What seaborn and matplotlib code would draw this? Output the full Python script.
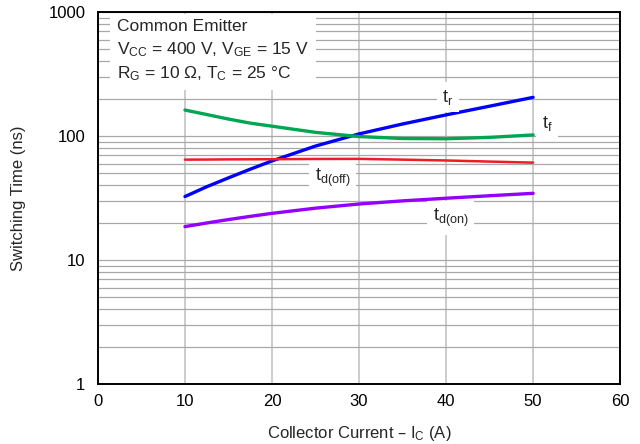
import numpy as np
import pandas as pd
import matplotlib
matplotlib.use("Agg")
import matplotlib.pyplot as plt
import seaborn as sns

# values
ic = [10, 12.5, 15, 17.5, 20, 25, 30, 35, 40, 45, 50]
t_r = [32.5, 39, 46, 54, 63, 83, 104, 125, 148, 174, 205]
t_f = [162, 149, 137, 127, 120, 107, 99, 95.5, 95, 97.5, 102]
t_d_off = [64.5, 64.6, 64.8, 64.9, 65, 65.3, 65.4, 64.5, 63.5, 62.2, 61]
t_d_on = [18.6, 19.9, 21.2, 22.5, 23.8, 26.2, 28.3, 30, 31.5, 33, 34.5]

series = {
    "tr": (t_r, "#0000ff", 2.4),
    "tf": (t_f, "#00a651", 2.4),
    "td_off": (t_d_off, "#ee1c25", 1.8),
    "td_on": (t_d_on, "#9400ff", 2.4),
}

sns.set_style("white")
plt.rcParams["font.family"] = ["Liberation Sans Narrow", "Liberation Sans", "DejaVu Sans"]
plt.rcParams["mathtext.default"] = "regular"

fig = plt.figure(figsize=(6.4, 4.44), dpi=100)
ax = fig.add_axes([0.153, 0.135, 0.816, 0.838])

for name, (vals, color, lw) in series.items():
    df = pd.DataFrame({"ic": ic, "t": vals})
    sns.lineplot(data=df, x="ic", y="t", color=color, linewidth=lw, ax=ax)

ax.set_yscale("log")
ax.set_xlim(0, 60)
ax.set_ylim(1, 1000)
ax.set_xticks([0, 10, 20, 30, 40, 50, 60])
ax.set_yticks([1, 10, 100, 1000])
ax.set_yticklabels(["1", "10", "100", "1000"])
ax.tick_params(which="both", length=0, labelsize=12, colors="black")
ax.tick_params(axis="y", pad=9)
ax.tick_params(axis="x", pad=7)

ax.grid(which="major", axis="x", color="#c8c8c8", linewidth=1.3)
ax.grid(which="both", axis="y", color="#a8a8a8", linewidth=0.9)
ax.set_axisbelow(True)
for sp in ax.spines.values():
    sp.set_color("black")
    sp.set_linewidth(1.4)

ax.set_xlabel("Collector Current – $I_C$ (A)", fontsize=12, labelpad=11)
ax.set_ylabel("Switching Time (ns)", fontsize=12, labelpad=16)

lbl = dict(fontsize=13, ha="center", va="center",
           bbox=dict(facecolor="white", edgecolor="none", pad=4))
ax.text(40.2, 206, "$t_r$", **lbl)
ax.text(51.6, 127, "$t_f$", **lbl)
ax.text(27, 45.8, "$t_{d(off)}$", **lbl)
ax.text(40.5, 21.8, "$t_{d(on)}$", **lbl)

ax.text(2.2, 870, "Common Emitter\n$V_{CC}$ = 400 V, $V_{GE}$ = 15 V\n$R_G$ = 10 Ω, $T_C$ = 25 °C",
        fontsize=12.5, ha="left", va="top", linespacing=1.4,
        bbox=dict(facecolor="white", edgecolor="none", pad=5))

fig.savefig("out.png", dpi=100)
